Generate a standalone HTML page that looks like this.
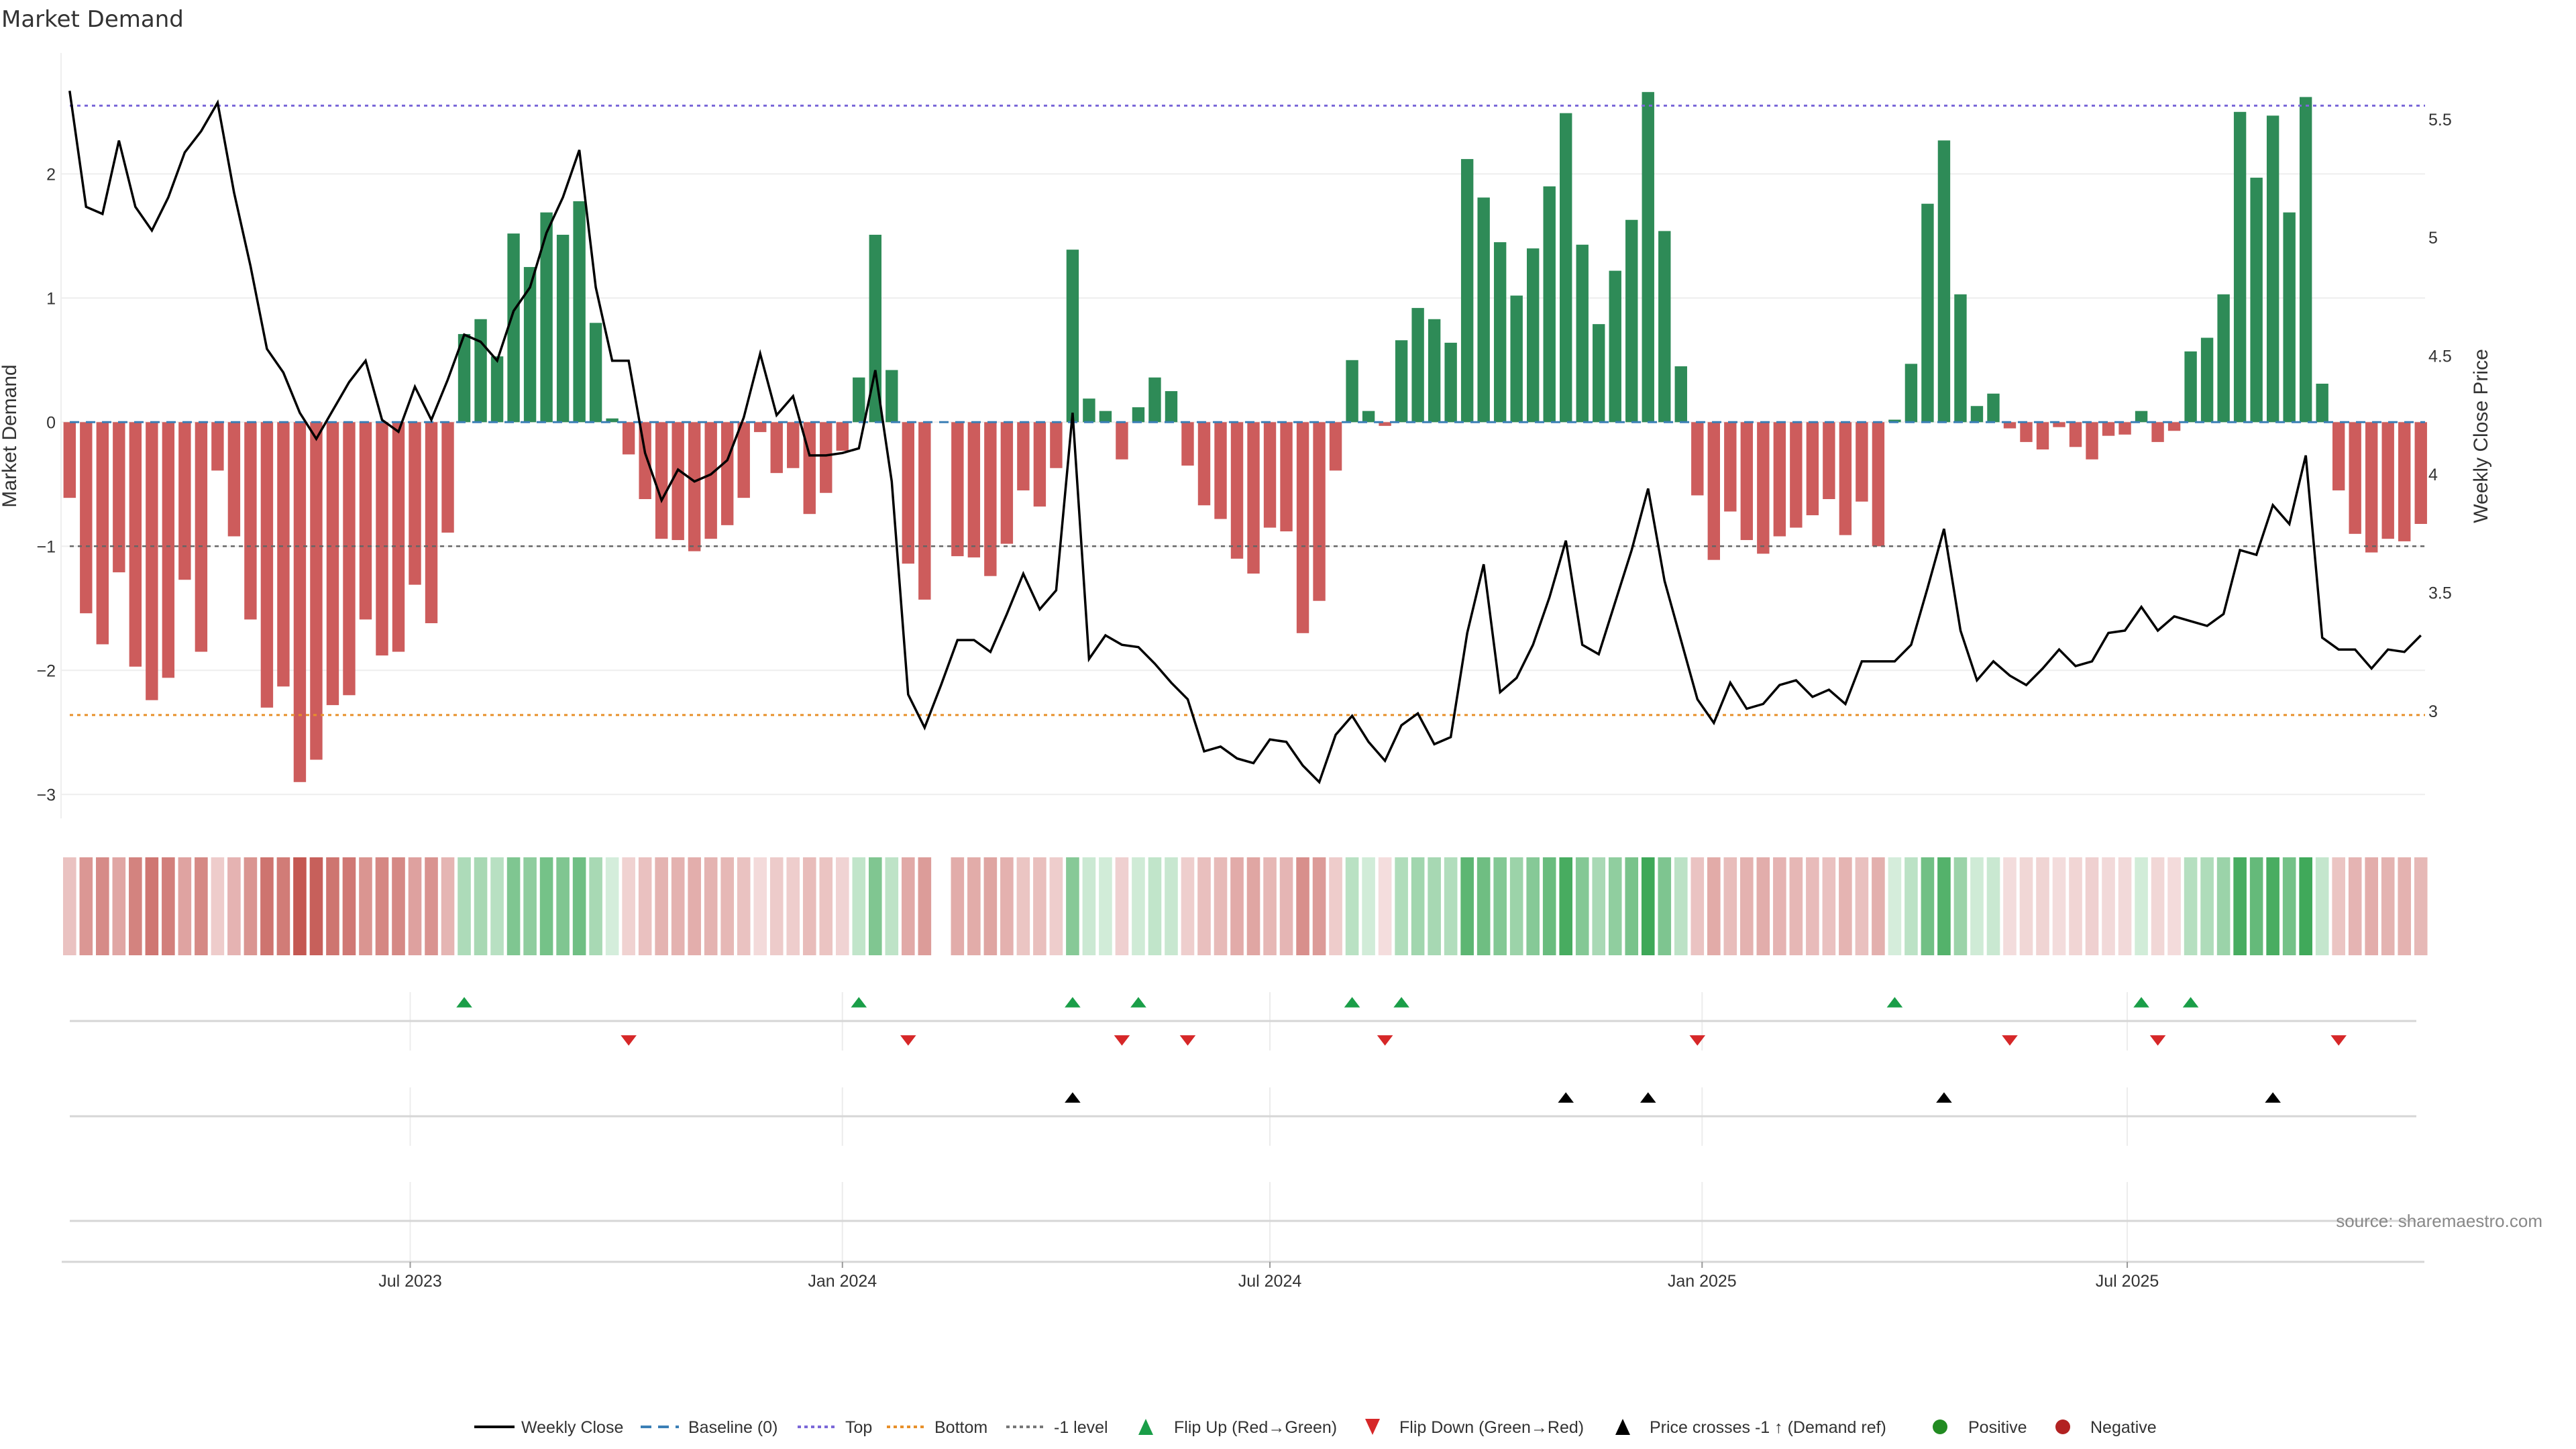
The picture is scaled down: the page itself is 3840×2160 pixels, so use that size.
<!DOCTYPE html>
<html><head><meta charset="utf-8">
<style>
html,body{margin:0;padding:0;background:#fff;}
svg{display:block;font-family:"Liberation Sans","DejaVu Sans",sans-serif;}
</style></head>
<body>
<svg id="chart" xmlns="http://www.w3.org/2000/svg" width="3840" height="2160" viewBox="0 0 3840 2160">
<rect x="0" y="0" width="3840" height="2160" fill="#ffffff"/>
<text x="2" y="40" font-size="34" fill="#333" font-family="DejaVu Sans, sans-serif">Market Demand</text>
<g id="grid"></g>
<g id="bars"></g>
<g id="refs"></g>
<g id="line"></g>
<g id="axes"></g>
<g id="heat"></g>
<g id="events"></g>
<text x="24" y="650" font-size="30" fill="#333" text-anchor="middle" transform="rotate(-90 24 650)">Market Demand</text>
<text x="3708" y="650" font-size="30" fill="#333" text-anchor="middle" transform="rotate(-90 3708 650)">Weekly Close Price</text>
<text x="3790" y="1829" font-size="26" fill="#888" text-anchor="end">source: sharemaestro.com</text>
<g id="legend"></g>
</svg>
<script>
const demand = [-0.61,-1.54,-1.79,-1.21,-1.97,-2.24,-2.06,-1.27,-1.85,-0.39,-0.92,-1.59,-2.30,-2.13,-2.90,-2.72,-2.28,-2.20,-1.59,-1.88,-1.85,-1.31,-1.62,-0.89,0.71,0.83,0.53,1.52,1.25,1.69,1.51,1.78,0.80,0.03,-0.26,-0.62,-0.94,
-0.95,-1.04,-0.94,-0.83,-0.61,-0.08,-0.41,-0.37,-0.74,-0.57,-0.23,0.36,1.51,0.42,-1.14,-1.43,0,-1.08,-1.09,-1.24,-0.98,-0.55,-0.68,-0.37,1.39,0.19,0.09,-0.30,0.12,0.36,0.25,-0.35,-0.67,-0.78,-1.10,-1.22,
-0.85,-0.88,-1.70,-1.44,-0.39,0.50,0.09,-0.03,0.66,0.92,0.83,0.64,2.12,1.81,1.45,1.02,1.40,1.90,2.49,1.43,0.79,1.22,1.63,2.66,1.54,0.45,-0.59,-1.11,-0.72,-0.95,-1.06,-0.92,-0.85,-0.75,-0.62,-0.91,-0.64,
-1.00,0.02,0.47,1.76,2.27,1.03,0.13,0.23,-0.05,-0.16,-0.22,-0.04,-0.20,-0.30,-0.11,-0.10,0.09,-0.16,-0.07,0.57,0.68,1.03,2.50,1.97,2.47,1.69,2.62,0.31,-0.55,-0.90,-1.05,-0.94,-0.96,-0.82];
const closePrice = [5.62,5.13,5.10,5.41,5.13,5.03,5.17,5.36,5.45,5.57,5.19,4.88,4.53,4.43,4.26,4.15,4.27,4.39,4.48,4.23,4.18,4.37,4.23,4.40,4.59,4.56,4.48,4.69,4.79,5.02,5.17,5.37,4.79,4.48,4.48,4.09,3.89,
4.02,3.97,4.00,4.06,4.24,4.51,4.25,4.33,4.08,4.08,4.09,4.11,4.44,3.97,3.07,2.93,3.11,3.30,3.30,3.25,3.41,3.58,3.43,3.51,4.26,3.22,3.32,3.28,3.27,3.20,3.12,3.05,2.83,2.85,2.80,2.78,
2.88,2.87,2.77,2.70,2.90,2.98,2.87,2.79,2.94,2.99,2.86,2.89,3.33,3.62,3.08,3.14,3.28,3.48,3.72,3.28,3.24,3.46,3.68,3.94,3.55,3.30,3.05,2.95,3.12,3.01,3.03,3.11,3.13,3.06,3.09,3.03,3.21,
3.21,3.21,3.28,3.52,3.77,3.34,3.13,3.21,3.15,3.11,3.18,3.26,3.19,3.21,3.33,3.34,3.44,3.34,3.40,3.38,3.36,3.41,3.68,3.66,3.87,3.79,4.08,3.31,3.26,3.26,3.18,3.26,3.25,3.32];
const startDate = "2023-02-06";
const xTickDates = ["2023-07-01","2024-01-01","2024-07-01","2025-01-01","2025-07-01"];
const xTickLabels = ["Jul 2023","Jan 2024","Jul 2024","Jan 2025","Jul 2025"];
const leftTicks = [2,1,0,-1,-2,-3];
const leftTickLabels = ["2","1","0","\u22121","\u22122","\u22123"];
const rightTicks = [5.5,5,4.5,4,3.5,3];
const rightTickLabels = ["5.5","5","4.5","4","3.5","3"];
const topLevel = [2.55];
const bottomLevel = [-2.36];
const minusOneLevel = [-1];

const NS = "http://www.w3.org/2000/svg";
function mk(tag, attrs, parent){const e=document.createElementNS(NS,tag);for(const k in attrs)e.setAttribute(k,attrs[k]);parent.appendChild(e);return e;}
const X0 = 103.8, DX = 24.51;
function xIdx(i){return X0 + i*DX;}
function yL(v){return 629.3 - 185*v;}
function yR(p){return 1060 - 352.9*(p-3);}
function pFromY(y){return 3 + (1060-y)/352.9;}
const t0 = new Date(startDate+"T00:00:00Z").getTime();
function xDate(s){return xIdx((new Date(s+"T00:00:00Z").getTime()-t0)/(7*86400000));}
const PL = 91, PR = 3615;

const grid = document.getElementById('grid');
leftTicks.forEach(v=>{
  const l=mk('line',{x1:PL,x2:PR,y1:yL(v),y2:yL(v),stroke:'#eeeeee','stroke-width':2},grid);
  
  
});
const axes = document.getElementById('axes');
leftTicks.forEach((v,k)=>{
  const t=mk('text',{x:83,y:yL(v)+9,'font-size':25,fill:'#333','text-anchor':'end'},axes);
  t.textContent=leftTickLabels[k];
  
  
});
rightTicks.forEach((p,k)=>{
  const t=mk('text',{x:3620,y:yR(p)+9,'font-size':25,fill:'#333'},axes);
  t.textContent=rightTickLabels[k];
  
  
});
let spine=mk('line',{x1:PL,x2:PL,y1:79,y2:1220,stroke:'#eeeeee','stroke-width':2},axes);



const bars=document.getElementById('bars');
demand.forEach((v,i)=>{
  if(v===0)return;
  const y=Math.min(yL(v),yL(0)), h=Math.abs(yL(v)-yL(0));
  const r=mk('rect',{x:xIdx(i)-9.2,y:y,width:18.4,height:Math.max(h,1),fill:v>0?'#2e8b57':'#cd5c5c'},bars);
  
  
});
const refs=document.getElementById('refs');
function refLine(v,color,dash,name,w){
  const l=mk('line',{x1:104,x2:PR,y1:yL(v),y2:yL(v),stroke:color,'stroke-width':w,'stroke-dasharray':dash},refs);
  
  
}
refLine(0,'#3b7fb6','14 10','baseline-zero',3);
refLine(topLevel[0],'#7b68d8','5 6','top-level-line',3);
refLine(bottomLevel[0],'#e8902a','5 6','bottom-level-line',3);
refLine(minusOneLevel[0],'#666','6 6','minus-one-level-line',2.5);

const lineG=document.getElementById('line');
const pts=closePrice.map((p,i)=>xIdx(i).toFixed(1)+','+yR(p).toFixed(1)).join(' ');
const pl=mk('polyline',{points:pts,fill:'none',stroke:'#000','stroke-width':3.5,'stroke-linejoin':'miter'},lineG);



const heat=document.getElementById('heat');
function mix(a,b,t){return 'rgb('+a.map((c,k)=>Math.round(c+(b[k]-c)*t)).join(',')+')';}
demand.forEach((v,i)=>{
  if(v===0)return;
  let col;
  if(v<0){col=mix([244,222,222],[196,88,82],Math.min(1,Math.abs(v)/2.9));}
  else{col=mix([214,238,220],[62,168,88],Math.min(1,v/2.66));}
  const r=mk('rect',{x:xIdx(i)-9.8,y:1278,width:19.6,height:146,fill:col},heat);
  
  
});

const ev=document.getElementById('events');
xTickDates.forEach(d=>{
  const x=xDate(d);
  [[1479,1566],[1621,1708],[1762,1881]].forEach(([a,b])=>{
    const l=mk('line',{x1:x,x2:x,y1:a,y2:b,stroke:'#ececec','stroke-width':2},ev);
    
    
  });
});
[1522,1664,1820].forEach(y=>{
  const l=mk('line',{x1:104,x2:3602,y1:y,y2:y,stroke:'#d6d6d6','stroke-width':3},ev);
  
  
});
let ax=mk('line',{x1:92,x2:3614,y1:1881,y2:1881,stroke:'#d6d6d6','stroke-width':3},ev);


xTickDates.forEach((d,k)=>{
  const x=xDate(d);
  const tk=mk('line',{x1:x,x2:x,y1:1881,y2:1890,stroke:'#999','stroke-width':2},ev);
  
  
  const t=mk('text',{x:x,y:1918,'font-size':25,fill:'#333','text-anchor':'middle'},ev);
  t.textContent=xTickLabels[k];
  
  
});
function tri(x,yc,up,color,name){
  const w=11.8,h=7.8;
  const p=up?`${x-w},${yc+h} ${x+w},${yc+h} ${x},${yc-h}`:`${x-w},${yc-h} ${x+w},${yc-h} ${x},${yc+h}`;
  const e=mk('polygon',{points:p,fill:color},ev);
  
  
}
const crossLevel=pFromY(yL(minusOneLevel[0]));
for(let i=1;i<demand.length;i++){
  if(demand[i]>0&&demand[i-1]<0)tri(xIdx(i),1494,true,'#1a9e48','flip-up-marker');
  if(demand[i]<0&&demand[i-1]>0)tri(xIdx(i),1551,false,'#d62728','flip-down-marker');
  if(closePrice[i]>=crossLevel&&closePrice[i-1]<crossLevel)tri(xIdx(i),1636,true,'#000','price-cross-marker');
}

const lg=document.getElementById('legend');
const LY=2127;
function ltext(x,s){const t=mk('text',{x:x,y:LY+9,'font-size':25,fill:'#333'},lg);t.textContent=s;}
function lline(x1,x2,c,d,w,n){const l=mk('line',{x1:x1,x2:x2,y1:LY,y2:LY,stroke:c,'stroke-width':w,'stroke-dasharray':d},lg);}
lline(707,767,'#000','none',4,'legend-weekly-close');ltext(777,'Weekly Close');
lline(955,1012,'#3b7fb6','16 10',4,'legend-baseline');ltext(1026,'Baseline (0)');
lline(1189,1244,'#7b68d8','5 5',4,'legend-top');ltext(1260,'Top');
lline(1322,1377,'#e8902a','5 5',4,'legend-bottom');ltext(1393,'Bottom');
lline(1500,1555,'#777','5 5',4,'legend-minus-one');ltext(1571,'-1 level');
function ltri(x,up,c,n){const w=11,h=12;const p=up?`${x-w},${LY+h} ${x+w},${LY+h} ${x},${LY-h}`:`${x-w},${LY-h} ${x+w},${LY-h} ${x},${LY+h}`;const e=mk('polygon',{points:p,fill:c},lg);}
ltri(1708,true,'#1a9e48','legend-flip-up');ltext(1750,'Flip Up (Red\u2192Green)');
ltri(2046,false,'#d62728','legend-flip-down');ltext(2086,'Flip Down (Green\u2192Red)');
ltri(2419,true,'#000','legend-price-cross');ltext(2459,'Price crosses -1 \u2191 (Demand ref)');
let c1=mk('circle',{cx:2892,cy:LY,r:11,fill:'#228b22'},lg);ltext(2934,'Positive');
let c2=mk('circle',{cx:3075,cy:LY,r:11,fill:'#b22222'},lg);ltext(3116,'Negative');
</script>
</body></html>
